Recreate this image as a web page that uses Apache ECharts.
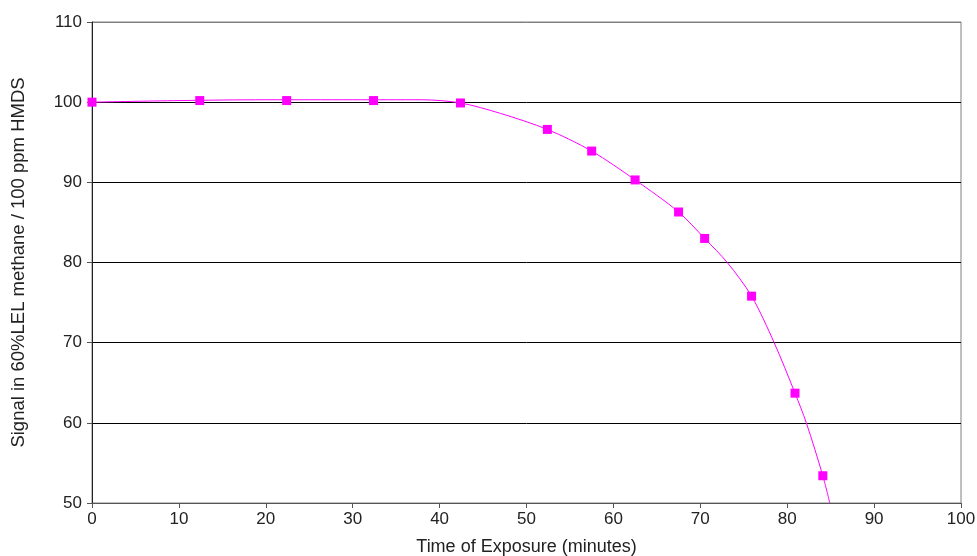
<!DOCTYPE html>
<html>
<head>
<meta charset="utf-8">
<script src="https://cdn.jsdelivr.net/npm/echarts@6/dist/echarts.min.js"></script>
<style>
  html, body { margin: 0; padding: 0; background: #fff; }
  #chart { width: 977px; height: 556px; }
</style>
</head>
<body>
<div id="chart"></div>
<script>
// measured points
var timeMin = [0, 12.4, 22.4, 32.4, 42.4, 52.4, 57.5, 62.5, 67.5, 70.5, 75.9, 80.9, 84.1];
var signal = [100, 100.2, 100.2, 100.2, 99.9, 96.6, 93.9, 90.3, 86.3, 83.0, 75.8, 63.7, 53.4];

// trend line
var trendX = [0, 10, 20, 30, 38, 42.4, 47, 52.4, 57.5, 62.5, 67.5, 70.5, 73.1, 75.9, 78.5, 80.9, 82.2, 84.1, 84.9];
var trendY = [100, 100.2, 100.3, 100.3, 100.3, 99.9, 98.6, 96.6, 93.9, 90.3, 86.3, 83.0, 80, 75.8, 70, 63.7, 60, 53.4, 50];

function pairs(xs, ys) {
    var res = [];
    for (var i = 0; i < xs.length; i++) {
        res.push([xs[i], ys[i]]);
    }
    return res;
}

var myChart = echarts.init(document.getElementById('chart'));
var font = 'Liberation Sans, Arial, sans-serif';

var option = {
    animation: false,
    grid: {
        left: 92,
        right: 16,
        top: 22,
        bottom: 53,
        containLabel: false,
        outerBoundsMode: 'none',
        show: true,
        borderColor: '#808080',
        borderWidth: 1
    },
    xAxis: {
        type: 'value',
        min: 0,
        max: 100,
        interval: 10,
        name: 'Time of Exposure (minutes)',
        nameLocation: 'middle',
        nameGap: 35,
        nameTextStyle: { fontFamily: font, fontSize: 18, color: '#222' },
        axisLine: { show: true, lineStyle: { color: '#555' } },
        axisTick: { show: true, length: 5, lineStyle: { color: '#555' } },
        axisLabel: { fontFamily: font, fontSize: 17, color: '#222', margin: 8 },
        splitLine: { show: false }
    },
    yAxis: {
        type: 'value',
        min: 50,
        max: 110,
        interval: 10,
        name: 'Signal in 60%LEL methane / 100 ppm HMDS',
        nameLocation: 'middle',
        nameGap: 64,
        nameTextStyle: { fontFamily: font, fontSize: 18.5, color: '#222' },
        axisLine: { show: true, lineStyle: { color: '#222' } },
        axisTick: { show: true, length: 5, lineStyle: { color: '#555' } },
        axisLabel: { fontFamily: font, fontSize: 17, color: '#222', margin: 10 },
        splitLine: {
            show: true,
            lineStyle: {
                color: ['#808080', '#000', '#000', '#000', '#000', '#000', '#808080'],
                width: 1
            }
        }
    },
    series: [
        {
            name: 'trend',
            type: 'line',
            data: pairs(trendX, trendY),
            smooth: 0.3,
            showSymbol: false,
            clip: true,
            lineStyle: { color: '#ff00ff', width: 1 },
            z: 2
        },
        {
            name: 'measured',
            type: 'scatter',
            data: pairs(timeMin, signal),
            symbol: 'rect',
            symbolSize: 9,
            itemStyle: { color: '#ff00ff', opacity: 1 },
            z: 3
        }
    ]
};
myChart.setOption(option);
</script>
</body>
</html>
